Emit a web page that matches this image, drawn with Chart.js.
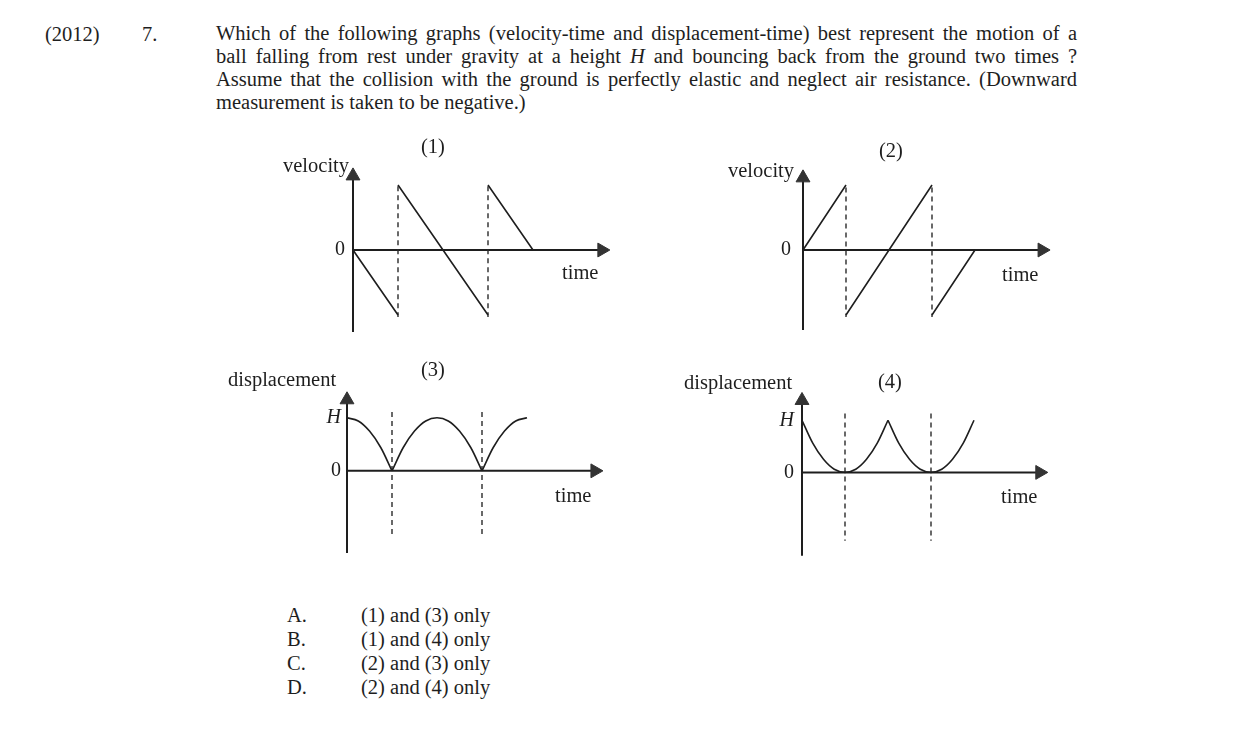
<!DOCTYPE html>
<html lang="en">
<head>
<meta charset="utf-8">
<title>Bouncing ball graphs</title>
<script src="https://cdn.jsdelivr.net/npm/chart.js@4.4.1/dist/chart.umd.min.js"></script>
<style>
  html, body { margin: 0; padding: 0; background: #fff; }
  #page { position: relative; width: 1240px; height: 731px; overflow: hidden;
          font-family: "Liberation Serif", "Times New Roman", serif; font-size: 20.5px; color: #1e1e1e; }
  .txt { position: absolute; white-space: nowrap; line-height: 22px; }
  .q { position: absolute; left: 216px; width: 861px; line-height: 23px; white-space: nowrap;
       text-align: justify; text-align-last: justify; }
  .q.last { text-align-last: left; }
  canvas { position: absolute; }
</style>
</head>
<body>
<div id="page">
  <canvas id="g1" width="322" height="234" style="left:313px;top:133px"></canvas>
  <canvas id="g2" width="310" height="234" style="left:763px;top:133px"></canvas>
  <canvas id="g3" width="322" height="227" style="left:307px;top:360px"></canvas>
  <canvas id="g4" width="310" height="224" style="left:762px;top:363px"></canvas>

  <div class="txt" style="left:45px;top:23px">(2012)</div>
  <div class="txt" style="left:142px;top:23px">7.</div>
  <div class="q" style="top:22px">Which of the following graphs (velocity-time and displacement-time) best represent the motion of a</div>
  <div class="q" style="top:45px">ball falling from rest under gravity at a height <i>H</i> and bouncing back from the ground two times ?</div>
  <div class="q" style="top:68px">Assume that the collision with the ground is perfectly elastic and neglect air resistance. (Downward</div>
  <div class="q last" style="top:91px">measurement is taken to be negative.)</div>

  <div class="txt" style="left:421px;top:135px">(1)</div>
  <div class="txt" style="left:283px;top:154px">velocity</div>
  <div class="txt" style="left:562px;top:261px">time</div>

  <div class="txt" style="left:879px;top:139px">(2)</div>
  <div class="txt" style="left:728px;top:159px">velocity</div>
  <div class="txt" style="left:1002px;top:263px">time</div>

  <div class="txt" style="left:228px;top:368px">displacement</div>
  <div class="txt" style="left:421px;top:358px">(3)</div>
  <div class="txt" style="left:555px;top:484px">time</div>

  <div class="txt" style="left:684px;top:371px">displacement</div>
  <div class="txt" style="left:878px;top:370px">(4)</div>
  <div class="txt" style="left:1001px;top:485px">time</div>

  <div class="txt" style="left:287px;top:604px">A.</div>
  <div class="txt" style="left:361px;top:604px">(1) and (3) only</div>
  <div class="txt" style="left:287px;top:628px">B.</div>
  <div class="txt" style="left:361px;top:628px">(1) and (4) only</div>
  <div class="txt" style="left:287px;top:652px">C.</div>
  <div class="txt" style="left:361px;top:652px">(2) and (3) only</div>
  <div class="txt" style="left:287px;top:676px">D.</div>
  <div class="txt" style="left:361px;top:676px">(2) and (4) only</div>
</div>

<script>
// time counted in units of the first fall, the ball hits the ground at t = 1 and t = 3
const bounceTimes = [1, 3];

// (1) velocity-time
const vel1Times  = [0, 1, 1, 1, 3, 3, 3, 4];
const vel1Values = [0, -1, null, 1, -1, null, 1, 0];

// (2) velocity-time
const vel2Times  = [0, 1, 1, 1, 3, 3, 3, 4];
const vel2Values = [0, 1, null, -1, 1, null, -1, 0];

// (3) displacement-time, in units of H, one array per arc
const disp3Times  = [[0, 0.25, 0.5, 0.75, 1], [1, 1.25, 1.5, 1.75, 2, 2.25, 2.5, 2.75, 3], [3, 3.25, 3.5, 3.75, 4]];
const disp3Values = [[1, 0.94, 0.75, 0.44, 0], [0, 0.44, 0.75, 0.94, 1, 0.94, 0.75, 0.44, 0], [0, 0.44, 0.75, 0.94, 1]];

// (4) displacement-time
const disp4Times  = [[0, 0.25, 0.5, 0.75, 1, 1.25, 1.5, 1.75, 2], [2, 2.25, 2.5, 2.75, 3, 3.25, 3.5, 3.75, 4]];
const disp4Values = [[1, 0.56, 0.25, 0.06, 0, 0.06, 0.25, 0.56, 1], [1, 0.56, 0.25, 0.06, 0, 0.06, 0.25, 0.56, 1]];

// tick labels of the vertical axes
const velTickValues  = [0];
const velTickLabels  = ['0'];
const dispTickValues = [0, 1];
const dispTickLabels = ['0', 'H'];

const ink = '#1e1e1e';

function drawGraph(canvasId, curves, tickValues, tickLabels, frame) {
    const datasets = [];

    curves.forEach(c => {
        datasets.push({
            data: c.times.map((t, i) => ({x: t, y: c.values[i]})),
            borderColor: ink,
            borderWidth: 1.6,
            pointRadius: 0,
            cubicInterpolationMode: c.smooth ? 'monotone' : 'default',
            tension: 0
        });
    });

    // dashed lines at the bounces
    const dashes = [];
    bounceTimes.forEach(t => {
        dashes.push({x: t, y: frame.dashTop}, {x: t, y: frame.dashBottom}, {x: t, y: null});
    });
    datasets.push({
        data: dashes,
        borderColor: '#2a2a2a',
        borderWidth: 1.4,
        borderDash: [5, 4],
        pointRadius: 0
    });

    // axes, with a triangle point as arrow head
    datasets.push({
        data: [{x: 0, y: 0}, {x: frame.xArrow, y: 0}],
        borderColor: ink,
        borderWidth: 2,
        pointRadius: [0, 8],
        pointStyle: 'triangle',
        pointRotation: 90,
        pointBackgroundColor: '#333',
        pointBorderColor: '#333',
        pointBorderWidth: 1,
        clip: false
    });
    datasets.push({
        data: [{x: 0, y: frame.yBottom}, {x: 0, y: frame.yArrow}],
        borderColor: ink,
        borderWidth: 2,
        pointRadius: [0, 8],
        pointStyle: 'triangle',
        pointRotation: 0,
        pointBackgroundColor: '#333',
        pointBorderColor: '#333',
        pointBorderWidth: 1,
        clip: false
    });

    return new Chart(document.getElementById(canvasId), {
        type: 'line',
        data: {datasets: datasets},
        options: {
            responsive: false,
            animation: false,
            events: [],
            layout: {padding: {top: 26, bottom: 26, left: 0, right: 12}},
            plugins: {legend: {display: false}, tooltip: {enabled: false}},
            scales: {
                x: {type: 'linear', min: 0, max: 6, display: false},
                y: {
                    type: 'linear',
                    min: frame.yMin,
                    max: frame.yMax,
                    grid: {display: false, drawTicks: false},
                    border: {display: false},
                    afterFit: (scale) => { scale.width = 40 },
                    afterBuildTicks: (scale) => { scale.ticks = tickValues.map(v => ({value: v})) },
                    ticks: {
                        padding: frame.tickPadding,
                        color: ink,
                        callback: (value, index) => tickLabels[index],
                        font: (ctx) => ({
                            family: 'Liberation Serif',
                            size: 20,
                            style: tickLabels[ctx.index] === 'H' ? 'italic' : 'normal'
                        })
                    }
                }
            }
        }
    });
}

drawGraph('g1', [{times: vel1Times, values: vel1Values}], velTickValues, velTickLabels,
    {yMin: -1.4, yMax: 1.4, xArrow: 5.53, yArrow: 1.14, yBottom: -1.26, dashTop: 0.98, dashBottom: -1.03, tickPadding: 8});

drawGraph('g2', [{times: vel2Times, values: vel2Values}], velTickValues, velTickLabels,
    {yMin: -1.4, yMax: 1.4, xArrow: 5.56, yArrow: 1.11, yBottom: -1.23, dashTop: 0.96, dashBottom: -1.03, tickPadding: 12});

drawGraph('g3', disp3Times.map((t, i) => ({times: t, values: disp3Values[i], smooth: true})), dispTickValues, dispTickLabels,
    {yMin: -1.7, yMax: 1.6, xArrow: 5.51, yArrow: 1.34, yBottom: -1.55, dashTop: 1.11, dashBottom: -1.26, tickPadding: 6});

drawGraph('g4', disp4Times.map((t, i) => ({times: t, values: disp4Values[i], smooth: true})), dispTickValues, dispTickLabels,
    {yMin: -1.7, yMax: 1.6, xArrow: 5.53, yArrow: 1.38, yBottom: -1.6, dashTop: 1.13, dashBottom: -1.31, tickPadding: 8});
</script>
</body>
</html>
